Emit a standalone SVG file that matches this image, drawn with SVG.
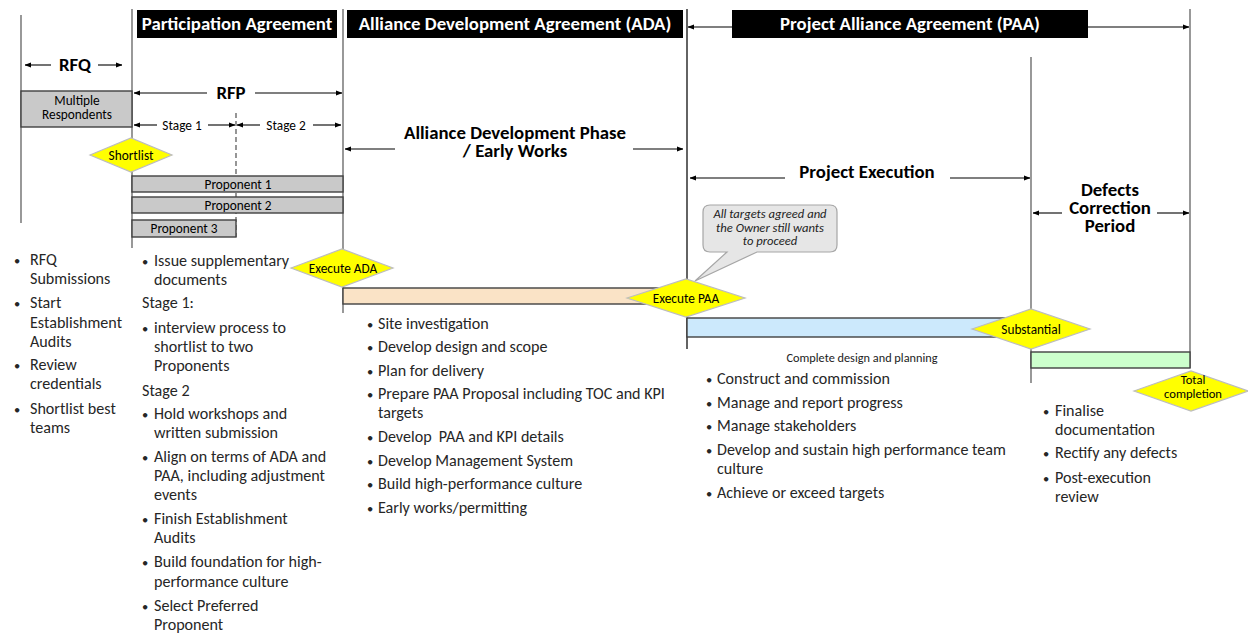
<svg xmlns="http://www.w3.org/2000/svg" width="1248" height="633" viewBox="0 0 1248 633">
<style>
text{font-family:Carlito,Lato,"Liberation Sans",sans-serif}
.hdr{font-size:18.8px;font-weight:bold;fill:#fff;text-anchor:middle}
.lbl{font-size:18.8px;font-weight:bold;fill:#000;text-anchor:middle}
.sm{font-size:13.3px;fill:#000;text-anchor:middle}
.sm2{font-size:12.6px;fill:#000;text-anchor:middle}
.tiny{font-size:12.3px;fill:#222;text-anchor:middle}
.body{font-size:16.1px;fill:#262626}
.bul{font-size:12.5px;fill:#262626;text-anchor:middle}
.call{font-size:12.6px;font-style:italic;fill:#222;text-anchor:middle}
.vl{stroke:#7f7f7f;stroke-width:1.6;fill:none}
.vd{stroke:#222;stroke-width:1.4;fill:none}
.box{fill:#c9c9c9;stroke:#404040;stroke-width:1.4}
.dia{fill:#ffff00;stroke:#bdbdbd;stroke-width:1.2}
.arr{stroke:#000;stroke-width:1.1;fill:none;marker-end:url(#ah)}
.bar{stroke:#404040;stroke-width:1.4}
</style>
<defs>
<marker id="ah" viewBox="0 0 10 10" refX="9.5" refY="5" markerWidth="6.5" markerHeight="6.5" orient="auto" markerUnits="userSpaceOnUse">
<path d="M0,1 L10,5 L0,9 z" fill="#000"/>
</marker>
</defs>
<rect width="1248" height="633" fill="#fff"/>

<g id="gridlines">
<line class="vl" x1="21" y1="15" x2="21" y2="223"/>
<line class="vl" x1="132" y1="9" x2="132" y2="248"/>
<line class="vl" x1="343" y1="9" x2="343" y2="313"/>
<line class="vd" x1="687" y1="9" x2="687" y2="349"/>
<line class="vl" x1="1031" y1="57" x2="1031" y2="383"/>
<line class="vl" x1="1190" y1="9" x2="1190" y2="368"/>
<line x1="236" y1="113" x2="236" y2="237" stroke="#404040" stroke-width="1.1" stroke-dasharray="5,3"/>
</g>

<g id="header-participation">
<rect x="137" y="10" width="200" height="28" fill="#000"/>
<text class="hdr" x="237" y="30">Participation Agreement</text>
</g>
<g id="header-ada">
<rect x="347" y="10" width="336" height="28" fill="#000"/>
<text class="hdr" x="515" y="30">Alliance Development Agreement (ADA)</text>
</g>
<g id="header-paa">
<rect x="732" y="10" width="356" height="28" fill="#000"/>
<text class="hdr" x="910" y="30">Project Alliance Agreement (PAA)</text>
</g>

<g id="connectors">
<line class="arr" x1="732" y1="27" x2="688" y2="27"/>
<line class="arr" x1="1088" y1="27" x2="1189" y2="27"/>
<line class="arr" x1="51" y1="65" x2="25" y2="65"/>
<line class="arr" x1="98" y1="65" x2="122" y2="65"/>
<line class="arr" x1="207" y1="93" x2="134" y2="93"/>
<line class="arr" x1="255" y1="93" x2="342" y2="93"/>
<line class="arr" x1="157" y1="125" x2="134" y2="125"/>
<line class="arr" x1="208" y1="125" x2="235" y2="125"/>
<line class="arr" x1="260" y1="125" x2="237" y2="125"/>
<line class="arr" x1="313" y1="125" x2="341" y2="125"/>
<line class="arr" x1="395" y1="149" x2="345" y2="149"/>
<line class="arr" x1="633" y1="149" x2="683" y2="149"/>
<line class="arr" x1="785" y1="178" x2="690" y2="178"/>
<line class="arr" x1="950" y1="178" x2="1030" y2="178"/>
<line class="arr" x1="1062" y1="213" x2="1033" y2="213"/>
<line class="arr" x1="1157" y1="213" x2="1189" y2="213"/>
</g>

<g id="rfq">
<text class="lbl" x="75" y="71">RFQ</text>
</g>
<g id="rfp">
<text class="lbl" x="231" y="99">RFP</text>
</g>
<g id="stage1"><text class="sm" x="182" y="129.5">Stage 1</text></g>
<g id="stage2"><text class="sm" x="286" y="129.5">Stage 2</text></g>

<g id="multiple-respondents">
<rect class="box" x="21" y="91" width="111" height="36"/>
<text class="sm" x="77" y="105">Multiple</text>
<text class="sm" x="77" y="119">Respondents</text>
</g>

<g id="proponent1">
<rect class="box" x="132" y="176" width="211" height="16"/>
<text class="sm" x="238" y="188.5">Proponent 1</text>
</g>
<g id="proponent2">
<rect class="box" x="132" y="197" width="211" height="16"/>
<text class="sm" x="238" y="209.5">Proponent 2</text>
</g>
<g id="proponent3">
<rect class="box" x="132" y="220" width="104" height="17"/>
<text class="sm" x="184" y="233">Proponent 3</text>
</g>

<g id="shortlist">
<polygon class="dia" points="90,155 131,138 172,155 131,172"/>
<text class="sm" x="131" y="159.5">Shortlist</text>
</g>

<g id="ada-phase">
<text class="lbl" x="515" y="139">Alliance Development Phase</text>
<text class="lbl" x="515" y="157">/ Early Works</text>
</g>
<g id="project-execution">
<text class="lbl" x="867" y="178">Project Execution</text>
</g>
<g id="defects-period">
<text class="lbl" x="1110" y="196">Defects</text>
<text class="lbl" x="1110" y="214">Correction</text>
<text class="lbl" x="1110" y="232">Period</text>
</g>

<g id="ada-bar">
<rect class="bar" x="343" y="288" width="344" height="16" fill="#fae3c6"/>
</g>
<g id="paa-bar">
<rect class="bar" x="687" y="318" width="344" height="19" fill="#cce9fc"/>
</g>
<g id="dcp-bar">
<rect class="bar" x="1031" y="352" width="159" height="16" fill="#ccffcc"/>
</g>

<g id="callout">
<path d="M710,205 H830 Q837,205 837,212 V245 Q837,252 830,252 H757 L695,281 L727,252 H710 Q703,252 703,245 V212 Q703,205 710,205 Z" fill="#e6e6e6" stroke="#a6a6a6" stroke-width="1.2"/>
<text class="call" x="770" y="218">All targets agreed and</text>
<text class="call" x="770" y="231.5">the Owner still wants</text>
<text class="call" x="770" y="245">to proceed</text>
</g>

<g id="execute-ada">
<polygon class="dia" points="291,268 342,249 393,268 342,287"/>
<text class="sm" x="343" y="272.5">Execute ADA</text>
</g>
<g id="execute-paa">
<polygon class="dia" points="627,298 686,279 745,298 686,317"/>
<text class="sm" x="686" y="302.5">Execute PAA</text>
</g>
<g id="substantial">
<polygon class="dia" points="972,329 1031,309 1090,329 1031,349"/>
<text class="sm" x="1031" y="333.5">Substantial</text>
</g>
<g id="total-completion">
<polygon class="dia" points="1134,391 1191,371 1248,391 1191,411"/>
<text class="sm2" x="1193" y="384">Total</text>
<text class="sm2" x="1193" y="398">completion</text>
</g>

<g id="rfq-list">
<text class="bul" x="17" y="265">•</text><text class="body" x="30" y="265">RFQ</text>
<text class="body" x="30" y="284">Submissions</text>
<text class="bul" x="17" y="307.5">•</text><text class="body" x="30" y="307.5">Start</text>
<text class="body" x="30" y="327.5">Establishment</text>
<text class="body" x="30" y="347">Audits</text>
<text class="bul" x="17" y="370">•</text><text class="body" x="30" y="370">Review</text>
<text class="body" x="30" y="389">credentials</text>
<text class="bul" x="17" y="414">•</text><text class="body" x="30" y="414">Shortlist best</text>
<text class="body" x="30" y="433">teams</text>
</g>

<g id="rfp-list">
<text class="bul" x="145" y="266">•</text><text class="body" x="154" y="266">Issue supplementary</text>
<text class="body" x="154" y="285">documents</text>
<text class="body" x="142" y="308">Stage 1:</text>
<text class="bul" x="145" y="333">•</text><text class="body" x="154" y="333">interview process to</text>
<text class="body" x="154" y="352">shortlist to two</text>
<text class="body" x="154" y="371">Proponents</text>
<text class="body" x="142" y="396">Stage 2</text>
<text class="bul" x="145" y="419">•</text><text class="body" x="154" y="419">Hold workshops and</text>
<text class="body" x="154" y="438">written submission</text>
<text class="bul" x="145" y="462">•</text><text class="body" x="154" y="462">Align on terms of ADA and</text>
<text class="body" x="154" y="481">PAA, including adjustment</text>
<text class="body" x="154" y="500">events</text>
<text class="bul" x="145" y="524">•</text><text class="body" x="154" y="524">Finish Establishment</text>
<text class="body" x="154" y="543">Audits</text>
<text class="bul" x="145" y="567">•</text><text class="body" x="154" y="567">Build foundation for high-</text>
<text class="body" x="154" y="587">performance culture</text>
<text class="bul" x="145" y="611">•</text><text class="body" x="154" y="611">Select Preferred</text>
<text class="body" x="154" y="630">Proponent</text>
</g>

<g id="ada-list">
<text class="bul" x="370" y="329">•</text><text class="body" x="378" y="329">Site investigation</text>
<text class="bul" x="370" y="352">•</text><text class="body" x="378" y="352">Develop design and scope</text>
<text class="bul" x="370" y="376">•</text><text class="body" x="378" y="376">Plan for delivery</text>
<text class="bul" x="370" y="399">•</text><text class="body" x="378" y="399">Prepare PAA Proposal including TOC and KPI</text>
<text class="body" x="378" y="418">targets</text>
<text class="bul" x="370" y="442">•</text><text class="body" x="378" y="442">Develop&#160; PAA and KPI details</text>
<text class="bul" x="370" y="466">•</text><text class="body" x="378" y="466">Develop Management System</text>
<text class="bul" x="370" y="489">•</text><text class="body" x="378" y="489">Build high-performance culture</text>
<text class="bul" x="370" y="513">•</text><text class="body" x="378" y="513">Early works/permitting</text>
</g>

<g id="paa-list">
<text class="tiny" x="862" y="362">Complete design and planning</text>
<text class="bul" x="709" y="384">•</text><text class="body" x="717" y="384">Construct and commission</text>
<text class="bul" x="709" y="408">•</text><text class="body" x="717" y="408">Manage and report progress</text>
<text class="bul" x="709" y="431">•</text><text class="body" x="717" y="431">Manage stakeholders</text>
<text class="bul" x="709" y="455">•</text><text class="body" x="717" y="455">Develop and sustain high performance team</text>
<text class="body" x="717" y="474">culture</text>
<text class="bul" x="709" y="498">•</text><text class="body" x="717" y="498">Achieve or exceed targets</text>
</g>

<g id="dcp-list">
<text class="bul" x="1046" y="416">•</text><text class="body" x="1055" y="416">Finalise</text>
<text class="body" x="1055" y="435">documentation</text>
<text class="bul" x="1046" y="458">•</text><text class="body" x="1055" y="458">Rectify any defects</text>
<text class="bul" x="1046" y="483">•</text><text class="body" x="1055" y="483">Post-execution</text>
<text class="body" x="1055" y="502">review</text>
</g>
</svg>
